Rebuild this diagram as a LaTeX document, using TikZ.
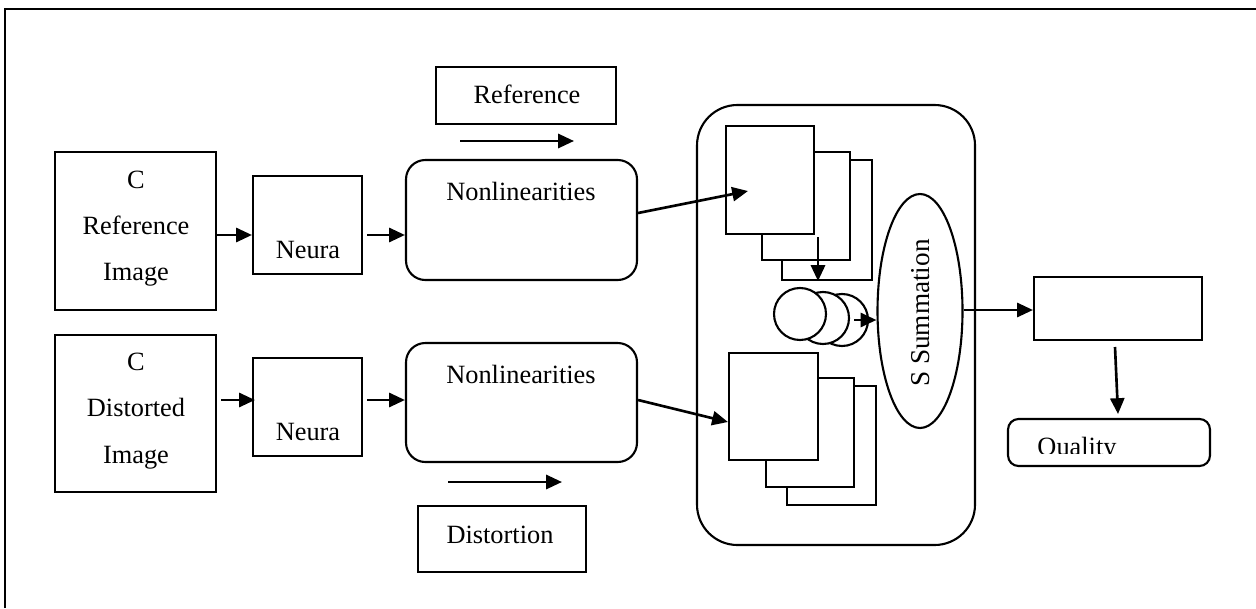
\documentclass[tikz,border=0pt]{standalone}
\usepackage{fontspec}
\setmainfont{Liberation Serif}
\usetikzlibrary{arrows.meta,fit,calc,shapes.geometric}
\begin{document}
\begin{tikzpicture}[x=0.02cm,y=-0.02cm,
  line width=1.2pt,
  sq/.style={draw, inner sep=0pt, fill=white},
  rbox/.style={draw, inner sep=0pt, rounded corners=11pt, fill=white},
  txt/.style={anchor=base, inner sep=0pt, font=\fontsize{15}{18}\selectfont},
  arr/.style={line width=1.5pt, -{Triangle[length=9pt,width=8pt]}},
  circ/.style={draw, circle, fill=white, minimum size=52*0.02cm, inner sep=0pt}]
\useasboundingbox (0,0) rectangle (1256,608);
% outer frame
\draw (5,608) -- (5,9) -- (1256,9);
% input boxes
\node[sq, fit={(55,152) (216,310)}] (refimg) {};
\node[sq, fit={(55,335) (216,492)}] (disimg) {};
\node[txt] (t1) at (136,188) {C};
\node[txt] (t2) at (136,234) {Reference};
\node[txt] (t3) at (136,280) {Image};
\node[txt] (t4) at (136,370) {C};
\node[txt] (t5) at (136,416) {Distorted};
\node[txt] (t6) at (136,463) {Image};
% neural boxes
\node[sq, fit={(253,176) (362,274)}] (neu1) {};
\node[sq, fit={(253,358) (362,456)}] (neu2) {};
\node[txt] (t7) at (308,258) {Neura};
\node[txt] (t8) at (308,440) {Neura};
% nonlinearities
\node[rbox, fit={(406,160) (637,280)}] (non1) {};
\node[rbox, fit={(406,343) (637,462)}] (non2) {};
\node[txt] (t9) at (521,200) {Nonlinearities};
\node[txt] (t10) at (521,383) {Nonlinearities};
% reference / distortion labels
\node[sq, fit={(436,67) (616,124)}] (refl) {};
\node[txt] (t11) at (527,103) {Reference};
\node[sq, fit={(418,506) (586,572)}] (disl) {};
\node[txt] (t12) at (500,543) {Distortion};
\coordinate (a1s) at (460,141); \coordinate (a1e) at (574,141);
\coordinate (a2s) at (448,482); \coordinate (a2e) at (562,482);
\draw[arr] (a1s) -- (a1e);
\draw[arr] (a2s) -- (a2e);
% arrows left part
\draw[arr] (refimg.east |- 0,235) -- (neu1.west |- 0,235);
\draw[arr] ([xshift=4*0.02cm]disimg.east |- 0,400) -- ([xshift=3*0.02cm]neu2.west |- 0,400);
\draw[arr] (367,235) -- (non1.west |- 0,235);
\draw[arr] (367,400) -- (non2.west |- 0,400);
% container
\node[draw, inner sep=0pt, rounded corners=23pt, fit={(697,105) (975,545)}] (cont) {};
% top stack
\node[sq, fit={(782,160) (872,280)}] (s13) {};
\node[sq, fit={(762,152) (850,260)}] (s12) {};
\node[sq, fit={(726,126) (814,234)}] (s11) {};
% bottom stack
\node[sq, fit={(787,386) (876,505)}] (s23) {};
\node[sq, fit={(766,378) (854,487)}] (s22) {};
\node[sq, fit={(729,353) (818,460)}] (s21) {};
\draw[arr] (non1.east |- 0,213) -- (748,191);
\draw[arr] (non2.east |- 0,400) -- (s21.west |- 0,422);
% circles
\node[circ] (c3) at (842,320) {};
\node[circ] (c2) at (823,318) {};
\node[circ] (c1) at (800,314) {};
\coordinate (dn1) at (818,237);
\draw[arr] (dn1) -- (s13.south -| dn1);
% ellipse
\node[draw, ellipse, inner sep=0pt, minimum width=85*0.02cm, minimum height=234*0.02cm, fill=white] (sum) at (920,311) {};
\node[rotate=90, inner sep=0pt, font=\fontsize{15.5}{18}\selectfont] (t13) at (921,313) {S Summation};
\coordinate (ca) at (854,320);
\draw[arr] (ca) -- (sum.west |- ca);
% output
\node[sq, fit={(1034,277) (1202,340)}] (outb) {};
\draw[arr] (sum.east |- 0,310) -- (outb.west |- 0,310);
\node[rbox, rounded corners=6pt, fit={(1008,419) (1210,466)}] (qual) {};
\draw[arr] (1115,347) -- (1118,414);
\begin{scope}
\clip (1010,421) rectangle (1208,453);
\node[txt] (t14) at (1077,455) {Quality};
\end{scope}
\end{tikzpicture}
\end{document}
